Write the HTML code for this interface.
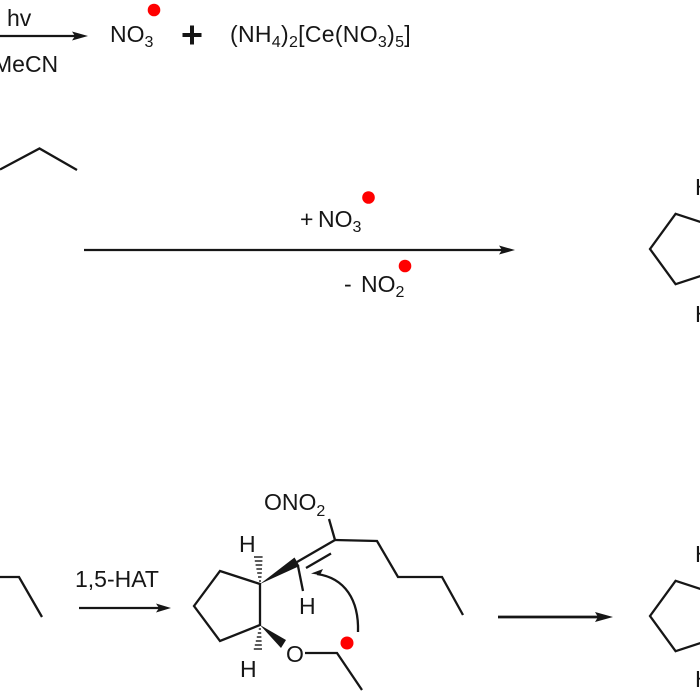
<!DOCTYPE html>
<html><head><meta charset="utf-8"><style>
html,body{margin:0;padding:0;background:#fff;}
svg{display:block;}
text{font-family:"Liberation Sans",Arial,sans-serif;fill:#161616;}
</style></head><body>
<svg width="700" height="700" viewBox="0 0 700 700" xmlns="http://www.w3.org/2000/svg">
<g stroke="#161616" stroke-width="2.3" fill="none" stroke-linejoin="miter" stroke-linecap="butt">
  <line x1="0" y1="36" x2="76" y2="36"/>
  <polyline points="0,169.5 39.5,148.5 77,170"/>
  <line x1="84" y1="250" x2="502" y2="250"/>
  <polygon points="650,249 675.6,213.8 716.9,227.3 716.9,270.7 675.6,284.2"/>
  <polyline points="0,577 19,577 42,617"/>
  <line x1="79" y1="608" x2="160" y2="608"/>
  <line x1="498" y1="617" x2="600" y2="617" stroke-width="2.7"/>
  <polygon points="650,616 675.6,580.8 716.9,594.3 716.9,637.7 675.6,651.2"/>
  <polygon points="194,606 220,571 260,584 260,625 220,641"/>
  <line x1="297" y1="562" x2="335" y2="540"/>
  <line x1="306" y1="568" x2="331" y2="553.5"/>
  <line x1="298" y1="566" x2="303" y2="591"/>
  <line x1="335" y1="540" x2="329" y2="519"/>
  <polyline points="335,540 377,541 398,577 442,577 463,615"/>
  <polyline points="305,653 337,653 362,690"/>
  <path d="M358,632 C359,600 345,578 317,574"/>
  <g stroke-width="1.4">
    <line x1="259" y1="581" x2="261" y2="581"/>
    <line x1="258" y1="577" x2="261.5" y2="577"/>
    <line x1="257.2" y1="573" x2="261.8" y2="573"/>
    <line x1="256.4" y1="569" x2="262" y2="569"/>
    <line x1="255.6" y1="565" x2="262.2" y2="565"/>
    <line x1="254.8" y1="561" x2="262.4" y2="561"/>
    <line x1="254" y1="557" x2="262.6" y2="557"/>
  </g>
  <g stroke-width="1.4">
    <line x1="258.8" y1="629" x2="261" y2="629"/>
    <line x1="257.8" y1="633" x2="261.2" y2="633"/>
    <line x1="256.8" y1="637" x2="261.4" y2="637"/>
    <line x1="255.8" y1="641" x2="261.6" y2="641"/>
    <line x1="254.8" y1="645" x2="261.8" y2="645"/>
    <line x1="253.8" y1="649" x2="262" y2="649"/>
  </g>
</g>
<g fill="#161616" stroke="none">
  <polygon points="88,36 72,31.5 75,36 72,40.5"/>
  <polygon points="515,250 499,245.5 502,250 499,254.5"/>
  <polygon points="171,608 156,603.5 159,608 156,612.5"/>
  <polygon points="613,617 595,612 598,617 595,622"/>
  <polygon points="311,573.5 323,569 320,575"/>
  <polygon points="260,584 294.5,557.5 299.5,566"/>
  <polygon points="260,625 286,640 281,648"/>
  <rect x="182.5" y="33" width="19" height="4"/>
  <rect x="190" y="25.5" width="4" height="19"/>
</g>
<g fill="#ff0000">
  <circle cx="154" cy="10" r="6.3"/>
  <circle cx="368.5" cy="197.5" r="6.3"/>
  <circle cx="405" cy="266" r="6.3"/>
  <circle cx="347" cy="643" r="6.5"/>
</g>
<g font-size="23">
  <text x="7" y="26">hv</text>
  <text x="-7" y="72">MeCN</text>
  <text x="110" y="42">NO<tspan font-size="16" dy="5">3</tspan></text>
  <text x="230" y="42" letter-spacing="0.3">(NH<tspan font-size="16" dy="5">4</tspan><tspan dy="-5">)</tspan><tspan font-size="16" dy="5">2</tspan><tspan dy="-5">[Ce(NO</tspan><tspan font-size="16" dy="5">3</tspan><tspan dy="-5">)</tspan><tspan font-size="16" dy="5">5</tspan><tspan dy="-5">]</tspan></text>
  <text x="300" y="227">+</text>
  <text x="318" y="227">NO<tspan font-size="16" dy="5">3</tspan></text>
  <text x="344" y="292">-</text>
  <text x="361" y="292">NO<tspan font-size="16" dy="5">2</tspan></text>
  <text x="695" y="195">H</text>
  <text x="695" y="322">H</text>
  <text x="75" y="587">1,5-HAT</text>
  <text x="239" y="552">H</text>
  <text x="299" y="614">H</text>
  <text x="264" y="510">ONO<tspan font-size="16" dy="6">2</tspan></text>
  <text x="286" y="662">O</text>
  <text x="240" y="677">H</text>
  <text x="695" y="562">H</text>
  <text x="695" y="687">H</text>
</g>
</svg>
</body></html>
